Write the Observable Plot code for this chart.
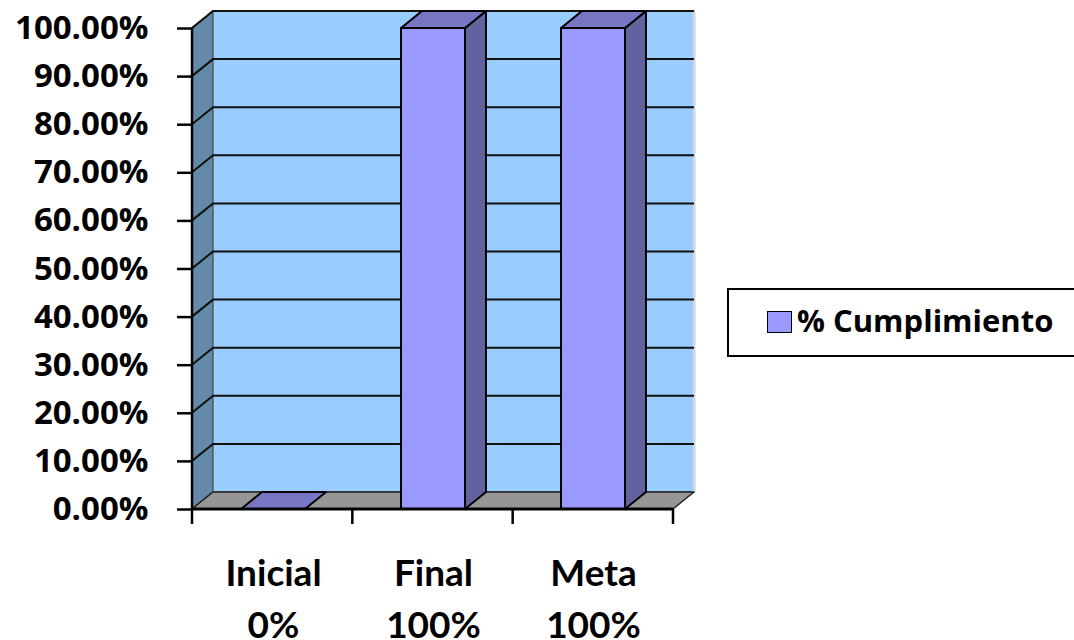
<!DOCTYPE html>
<html>
<head>
<meta charset="utf-8">
<script src="https://cdn.jsdelivr.net/npm/d3@7"></script>
<script src="https://cdn.jsdelivr.net/npm/@observablehq/plot@0.6"></script>
<style>
  body { margin: 0; background: #fff; }
  #chart { position: relative; width: 1074px; height: 640px; overflow: hidden;
           font-family: "Open Sans", sans-serif; font-weight: 700; }
  #legend { position: absolute; left: 727px; top: 288px; width: 370px; height: 69px;
            box-sizing: border-box; border: 2.5px solid #000; background: #fff; }
  #legend .swatch { position: absolute; left: 38px; top: 21px; width: 25px; height: 22px;
                    box-sizing: border-box; background: #9999ff; border: 1.5px solid #000; }
  #legend .label { position: absolute; left: 68px; top: 9px; font-size: 31px; line-height: 42px;
                   color: #000; white-space: nowrap; }
</style>
</head>
<body>
<div id="chart"></div>
<script>
// Categories, their compliance share and the value line printed under each name
const categories = ["Inicial", "Final", "Meta"];
const cumplimiento = [0, 1, 1];
const valueLabels = ["0%", "100%", "100%"];
const yTicks = [0, 0.1, 0.2, 0.3, 0.4, 0.5, 0.6, 0.7, 0.8, 0.9, 1];
const seriesName = "% Cumplimiento";

// Depth offset of the 3-D box (pixels toward the back)
const depthX = 21, depthY = -17;

const colors = {
  backWall: "#99ccff",
  sideWall: "#6389ab",
  floor: "#969696",
  barFront: "#9999ff",
  barSide: "#62629f",
  barTop: "#7676c2"
};

// Walls, floor, gridlines and 3-D columns, all positioned through Plot's scales
function columns3d(index, {x, y}, values, dims) {
  const g = d3.create("svg:g");
  const x0 = dims.marginLeft, x1 = dims.width - dims.marginRight;
  const y0 = y(0), yTop = y(1);
  const bw = typeof x.bandwidth === "function" ? x.bandwidth() : x.bandwidth;
  const back = ([px, py]) => [px + depthX, py + depthY];
  const poly = (pts, fill, stroke, sw) => g.append("polygon")
    .attr("points", pts.map(p => p.join(",")).join(" "))
    .attr("fill", fill)
    .attr("stroke", stroke || "none")
    .attr("stroke-width", sw || 0)
    .attr("stroke-linejoin", "round");
  const line = (pts, stroke, sw) => g.append("polyline")
    .attr("points", pts.map(p => p.join(",")).join(" "))
    .attr("fill", "none").attr("stroke", stroke).attr("stroke-width", sw);

  // side (left) wall and back wall
  poly([[x0, y0], [x0, yTop], back([x0, yTop]), back([x0, y0])], colors.sideWall, "#222", 1.5);
  poly([back([x0, y0]), back([x0, yTop]), back([x1, yTop]), back([x1, y0])], colors.backWall, "#666", 1.5);
  // light edge on the right side of the back wall
  line([back([x1, yTop]), back([x1, y0])], "#c8d8e4", 3);

  // gridlines across the side wall and the back wall
  for (const t of yTicks) {
    if (t === 0) continue;
    const yy = y(t);
    line([[x0, yy], back([x0, yy]), back([x1, yy])], "#111", 2);
  }

  // floor
  poly([[x0, y0], back([x0, y0]), back([x1, y0]), [x1, y0]], colors.floor, "#222", 1.5);

  // columns
  categories.forEach((c, i) => {
    const l = x(c), r = l + bw, t = y(cumplimiento[i]);
    if (t < y0) poly([[l, y0], [l, t], [r, t], [r, y0]], colors.barFront, "#000", 2);
    if (t < y0) poly([[r, y0], [r, t], back([r, t]), back([r, y0])], colors.barSide, "#000", 2);
    poly([[l, t], back([l, t]), back([r, t]), [r, t]], colors.barTop, "#000", 2);
  });

  // axis lines and category boundary ticks
  line([[x0, y0], [x0, yTop]], "#000", 2.5);
  line([[x0, y0], [x1, y0]], "#000", 3);
  const step = (x1 - x0) / categories.length;
  for (let k = 0; k <= categories.length; k++) {
    const xx = x0 + k * step;
    line([[xx, y0], [xx, y0 + 15]], "#000", 2.5);
  }
  return g.node();
}

const plot = Plot.plot({
  width: 1074,
  height: 640,
  marginLeft: 192,
  marginRight: 401,
  marginTop: 28,
  marginBottom: 131,
  x: {type: "band", domain: categories, paddingInner: 0.6, paddingOuter: 0.3, axis: null},
  y: {domain: [0, 1], axis: null},
  style: {fontFamily: "'Open Sans', sans-serif", fontWeight: 700, color: "#000", background: "transparent", overflow: "visible"},
  marks: [
    columns3d,
    Plot.axisY(yTicks, {
      tickSize: 15, tickPadding: 29, stroke: "#000", strokeWidth: 2.5,
      tickFormat: d => (d * 100).toFixed(2) + "%",
      fontSize: 33, fontWeight: 700, fill: "#000", label: null
    }),
    Plot.axisX({
      tickSize: 0, tickPadding: 40, lineHeight: 1.4,
      tickFormat: d => d + "\n" + valueLabels[categories.indexOf(d)],
      fontFamily: "Lato, sans-serif", fontSize: 37, fontWeight: 700, fill: "#000", label: null
    })
  ]
});

const chart = document.getElementById("chart");
chart.appendChild(plot);

// legend box on the right
const legend = document.createElement("div");
legend.id = "legend";
legend.innerHTML = '<div class="swatch"></div><div class="label"></div>';
legend.querySelector(".label").textContent = seriesName;
chart.appendChild(legend);
</script>
</body>
</html>
